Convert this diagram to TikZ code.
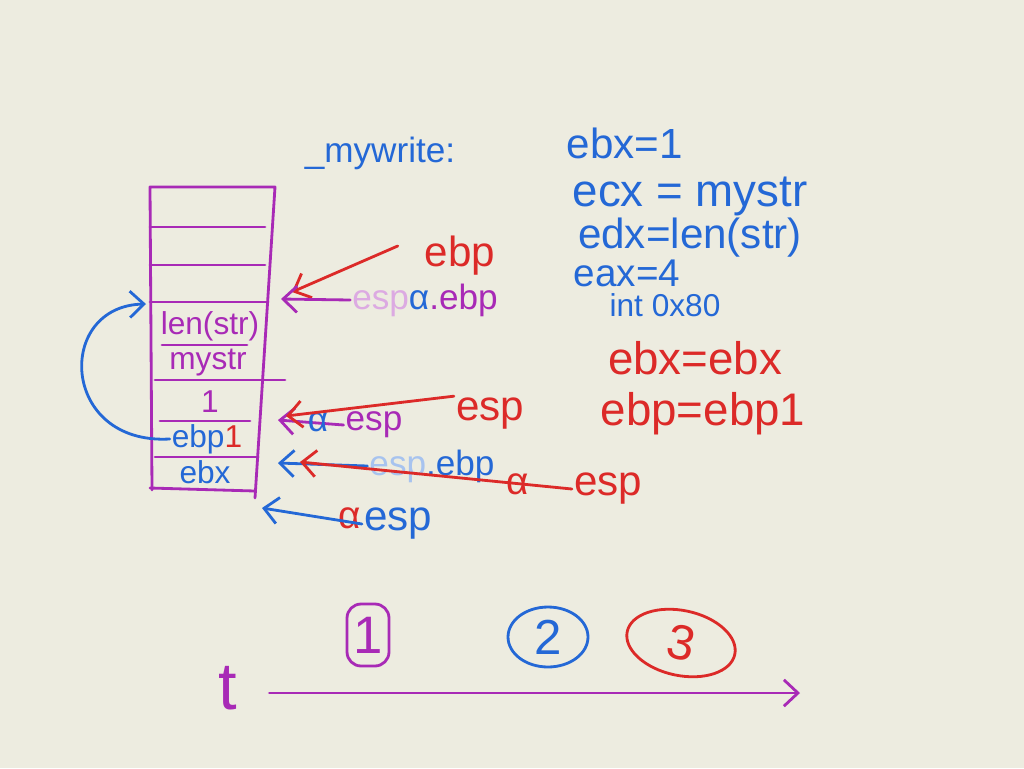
\documentclass[tikz,border=0pt]{standalone}
\usepackage{fontspec}
\setmainfont{Liberation Sans}
\usetikzlibrary{arrows.meta,shapes.geometric}

\definecolor{paper}{RGB}{237,236,224}
\definecolor{ppurple}{RGB}{168,42,182}
\definecolor{pblue}{RGB}{36,104,214}
\definecolor{pred}{RGB}{220,42,40}

\tikzset{
  pen/.style={line width=1.6pt, line cap=round, line join=round},
  cell/.style={font=\fontsize{18}{20}\selectfont, inner sep=1pt},
  tag/.style={font=\fontsize{24}{26}\selectfont, inner sep=1pt},
  note/.style={font=\fontsize{#1}{#1}\selectfont, inner sep=1pt, anchor=center},
}

\begin{document}
\begin{tikzpicture}[x=0.02cm, y=-0.02cm, >={Straight Barb[length=8pt,width=15pt]}]
  \fill[paper] (0,0) rectangle (1024,768);
  \useasboundingbox (0,0) rectangle (1024,768);

  % stack frame
  \coordinate (TL) at (150,187);
  \coordinate (TR) at (275,187);
  \coordinate (BR) at (255,498);
  \coordinate (BL) at (152,490);

  \draw[pen, ppurple] (BL) -- (TL) -- (TR) -- (BR);
  \draw[pen, ppurple] (150,488) -- (255,491);
  \foreach \y/\a/\b in {227/150/265, 265/150/265, 302/150/268, 345/162/247,
                        380/155/285, 421/160/250, 457/155/258}
    \draw[pen, ppurple] (\a,\y) -- (\b,\y);

  \node[cell, text=ppurple] (len) at (210,326) {len(str)};
  \node[cell, text=ppurple] (mystr) at (208,363) {mystr};
  \node[cell, text=ppurple] (one) at (210,402) {1};
  \node[cell, text=pblue] (ebpone) at (207,439) {ebp\textcolor{pred}{1}};
  \node[cell, text=pblue] (ebx) at (205,472) {ebx};

  \coordinate (saved) at (146,304);
  \draw[pen, pblue, ->] (ebpone.west) .. controls (60,445) and (55,306) .. (saved);

  % pointers on the right
  \coordinate (P1) at (281,299);
  \coordinate (P2) at (292,292);
  \coordinate (P3) at (278,420);
  \coordinate (P4) at (286,416);
  \coordinate (P5) at (278,463);
  \coordinate (P6) at (300,462);
  \coordinate (P7) at (262,508);

  \node[tag, text=pred] (ebpR) at (460,256) {ebp};
  \draw[pen, pred, ->] ([xshift=-0.5cm, yshift=0.2cm]ebpR.west) -- (P2);

  \node[note=20, text=ppurple] (ebpP) at (425,300)
    {\textcolor{ppurple!40}{esp}\textcolor{pblue}{α}.ebp};
  \draw[pen, ppurple, ->] (ebpP.west) -- (P1);

  \node[note=20, text=ppurple] (espP) at (374,425) {esp};
  \draw[pen, ppurple, ->] (espP.west) -- (P3);
  \node[note=20, text=pblue] (alphaA) at (318,422) {α};
  \node[tag, text=pred] (espR) at (490,414) {esp};
  \draw[pen, pred, ->] (espR.north west) -- (P4);

  \node[note=20, text=pblue] (ebpB) at (432,466)
    {\textcolor{pblue!40}{esp}.ebp};
  \draw[pen, pblue, ->] (ebpB.west) -- (P5);
  \node[tag, text=pred] (espR2) at (608,489) {esp};
  \node[note=22, text=pred] (alphaB) at (518,484) {α};
  \draw[pen, pred, ->] (espR2.west) -- (P6);

  \node[tag, text=pblue] (espB) at (398,524) {esp};
  \node[note=22, text=pred] (alphaC) at (350,518) {α};
  \draw[pen, pblue, ->] (espB.west) -- (P7);

  % registers
  \node[note=20, text=pblue] (fname) at (380,153) {\_mywrite:};
  \node[note=24, text=pblue] (setebx) at (625,143) {ebx=1};
  \node[note=26, text=pblue] (setecx) at (690,196) {ecx = mystr};
  \node[note=24, text=pblue] (setedx) at (690,238) {edx=len(str)};
  \node[note=22, text=pblue] (seteax) at (627,273) {eax=4};
  \node[note=18, text=pblue] (intr) at (665,305) {int 0x80};
  \node[note=26, text=pred] (resebx) at (695,358) {ebx=ebx};
  \node[note=26, text=pred] (resebp) at (703,414) {ebp=ebp1};

  % timeline
  \node[note=30, text=ppurple, draw=ppurple, pen, rounded corners=8pt,
        minimum width=0.84cm, minimum height=1.24cm] (s1) at (368,635) {1};
  \node[note=28, text=pblue, draw=pblue, pen, ellipse,
        minimum width=1.6cm, minimum height=1.2cm, inner sep=0pt] (s2) at (548,637) {2};
  \node[note=28, text=pred, draw=pred, pen, ellipse, rotate=-12,
        minimum width=2.2cm, minimum height=1.3cm, inner sep=0pt] (s3) at (681,643) {3};

  \node[note=38, text=ppurple] (t) at (228,688) {t};
  \coordinate (tend) at (800,693);
  \draw[pen, ppurple, ->] ([xshift=0.6cm]t.east |- tend) -- (tend);
\end{tikzpicture}
\end{document}
